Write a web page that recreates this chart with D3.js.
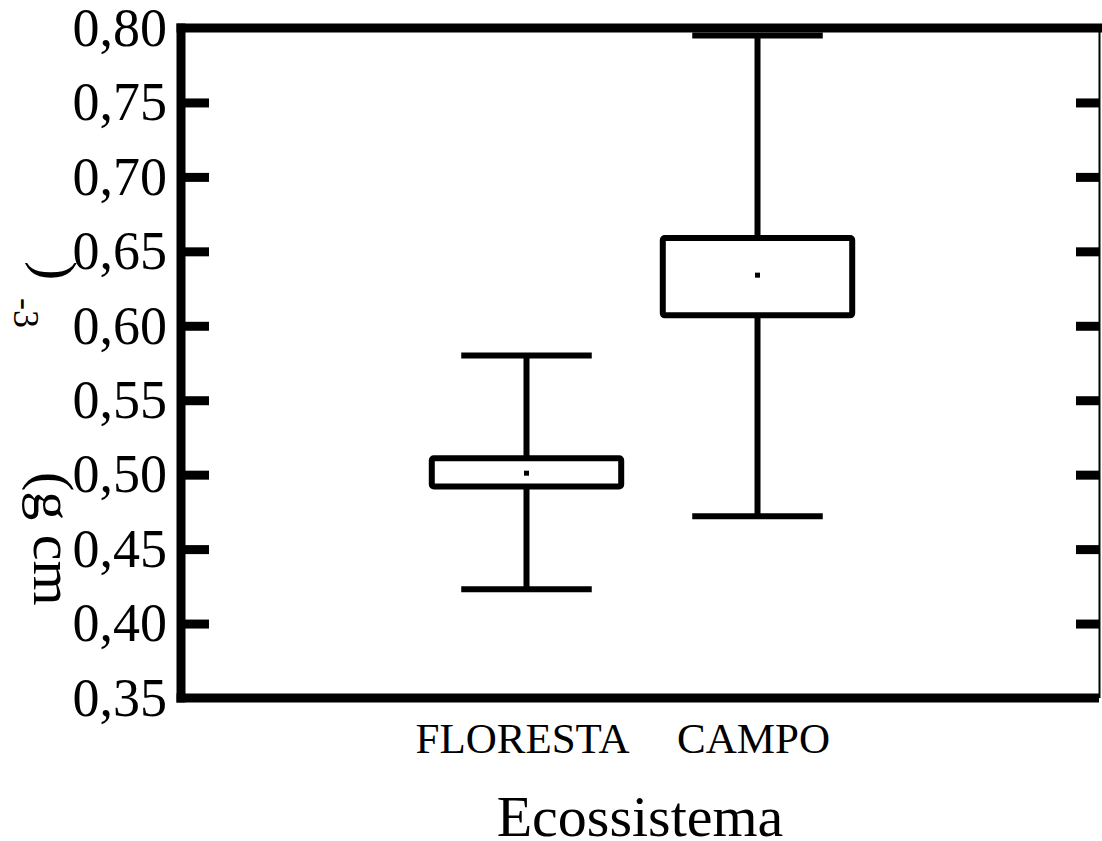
<!DOCTYPE html>
<html>
<head>
<meta charset="utf-8">
<script src="https://cdn.jsdelivr.net/npm/d3@7"></script>
<style>
  body { margin: 0; background: #fff; }
</style>
</head>
<body>
<div id="chartArea"></div>
<script>
// box plot values
const categories = ["FLORESTA", "CAMPO"];
const whiskerLow = [0.423, 0.472];
const boxLow = [0.492, 0.607];
const boxHigh = [0.511, 0.659];
const whiskerHigh = [0.580, 0.795];
const means = [0.501, 0.634];
const yTicks = [0.35, 0.40, 0.45, 0.50, 0.55, 0.60, 0.65, 0.70, 0.75, 0.80];

(function() {
  const W = 1102, H = 841;
  const left = 181, right = 1099, top = 28, bottom = 698;
  const serif = "'Liberation Serif', 'Times New Roman', 'DejaVu Serif', serif";

  const svg = d3.select("#chartArea")
    .append("svg")
    .attr("width", W)
    .attr("height", H)
    .attr("font-family", serif);

  const yScale = d3.scaleLinear().domain([0.35, 0.80]).range([bottom, top]);
  const xScale = d3.scaleBand()
    .domain(categories)
    .range([180, 1104])
    .paddingInner(0)
    .paddingOuter(1);

  const fmt = d => d.toFixed(2).replace(".", ",");

  // tick labels
  const yLabels = svg.append("g")
    .attr("transform", "translate(" + left + ",0)")
    .call(d3.axisLeft(yScale).tickValues(yTicks).tickFormat(fmt).tickSize(0).tickPadding(14))
    .attr("font-family", serif)
    .attr("font-size", 54);
  yLabels.select(".domain").remove();
  yLabels.selectAll("text").attr("fill", "#000");

  // inward ticks, left and right
  const inner = yTicks.slice(1, -1);
  const lt = svg.append("g")
    .attr("transform", "translate(" + left + ",0)")
    .call(d3.axisRight(yScale).tickValues(inner).tickFormat("").tickSize(28));
  lt.select(".domain").remove();
  lt.selectAll("line").attr("stroke", "#000").attr("stroke-width", 9);

  const rt = svg.append("g")
    .attr("transform", "translate(" + right + ",0)")
    .call(d3.axisLeft(yScale).tickValues(inner).tickFormat("").tickSize(23));
  rt.select(".domain").remove();
  rt.selectAll("line").attr("stroke", "#000").attr("stroke-width", 9);

  // frame
  const frame = svg.append("g").attr("stroke", "#000");
  frame.append("line").attr("x1", left - 4.5).attr("x2", W).attr("y1", top).attr("y2", top).attr("stroke-width", 9);
  frame.append("line").attr("x1", left - 4.5).attr("x2", right).attr("y1", bottom).attr("y2", bottom).attr("stroke-width", 9);
  frame.append("line").attr("x1", left).attr("x2", left).attr("y1", top - 4.5).attr("y2", bottom + 4.5).attr("stroke-width", 9);
  frame.append("line").attr("x1", right + 0.5).attr("x2", right + 0.5).attr("y1", top).attr("y2", bottom).attr("stroke-width", 2);

  // x labels
  const xa = svg.append("g")
    .attr("transform", "translate(0," + bottom + ")")
    .call(d3.axisBottom(xScale).tickSize(0).tickPadding(24))
    .attr("font-family", serif)
    .attr("font-size", 43);
  xa.select(".domain").remove();
  xa.selectAll("text").attr("fill", "#000").attr("dx", -4);

  // boxes
  const idx = d3.range(categories.length);
  const step = xScale.step();
  const cx = i => xScale(categories[i]) + xScale.bandwidth() / 2;
  const boxW = step * 0.82;
  const capW = step * 0.565;

  const g = svg.append("g").attr("stroke", "#000").attr("fill", "none");

  g.selectAll(".whisker").data(idx).enter().append("line")
    .attr("x1", cx).attr("x2", cx)
    .attr("y1", i => yScale(whiskerLow[i]))
    .attr("y2", i => yScale(whiskerHigh[i]))
    .attr("stroke-width", 6);

  g.selectAll(".capLow").data(idx).enter().append("line")
    .attr("x1", i => cx(i) - capW / 2).attr("x2", i => cx(i) + capW / 2)
    .attr("y1", i => yScale(whiskerLow[i])).attr("y2", i => yScale(whiskerLow[i]))
    .attr("stroke-width", 6);

  g.selectAll(".capHigh").data(idx).enter().append("line")
    .attr("x1", i => cx(i) - capW / 2).attr("x2", i => cx(i) + capW / 2)
    .attr("y1", i => yScale(whiskerHigh[i])).attr("y2", i => yScale(whiskerHigh[i]))
    .attr("stroke-width", 6);

  g.selectAll(".box").data(idx).enter().append("rect")
    .attr("x", i => cx(i) - boxW / 2)
    .attr("width", boxW)
    .attr("y", i => yScale(boxHigh[i]))
    .attr("height", i => yScale(boxLow[i]) - yScale(boxHigh[i]))
    .attr("rx", 2)
    .attr("fill", "#fff")
    .attr("stroke-width", 6);

  svg.selectAll(".mean").data(idx).enter().append("rect")
    .attr("x", i => cx(i) - 2.5)
    .attr("y", i => yScale(means[i]) - 2.5)
    .attr("width", 5).attr("height", 5)
    .attr("fill", "#000");

  // x title
  svg.append("text")
    .attr("x", (left + right) / 2)
    .attr("y", 836)
    .attr("text-anchor", "middle")
    .attr("font-size", 58)
    .text("Ecossistema");

  // y title, broken into pieces as in the figure
  svg.append("text")
    .attr("transform", "translate(34,472) rotate(90)")
    .attr("font-size", 58)
    .text("(g cm");
  svg.append("text")
    .attr("transform", "translate(14,298) rotate(90)")
    .attr("font-size", 36)
    .text("-3");
  svg.append("text")
    .attr("transform", "translate(37,261) rotate(90)")
    .attr("font-size", 58)
    .text(")");
})();
</script>
</body>
</html>
